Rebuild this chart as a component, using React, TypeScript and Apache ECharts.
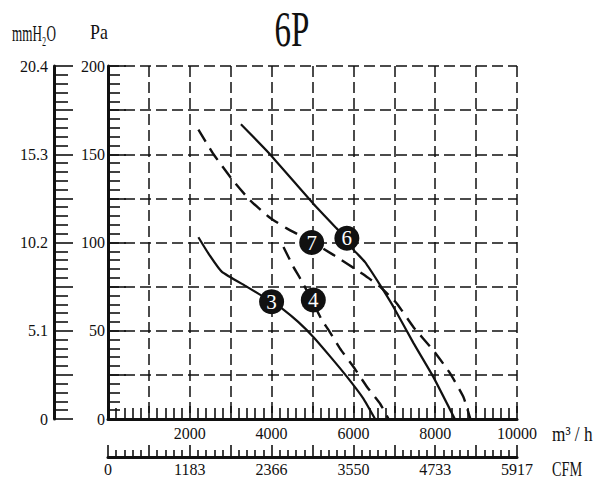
import React, { useEffect, useRef } from 'react';
import * as echarts from 'echarts';

// Tick labels
const flowLabels = [2000, 4000, 6000, 8000, 10000];
const paLabels = [0, 50, 100, 150, 200];
const mmLabels = ['0', '5.1', '10.2', '15.3', '20.4'];
const cfmLabels = ['0', '1183', '2366', '3550', '4733', '5917'];

// Curves: [m3/h, Pa]
const curve6 = [[3250, 167], [3920, 151], [5020, 122], [5590, 108], [5840, 102], [6000, 96], [6280, 89], [6650, 76], [6980, 63.5], [7470, 43], [7950, 24], [8480, 0]];
const curve7 = [[2210, 164], [2580, 150], [3060, 135], [3470, 124], [3960, 114], [4370, 108], [4980, 100.5], [5510, 93], [6240, 82], [6650, 75], [7060, 65.5], [7470, 52], [7950, 39], [8360, 26], [8690, 12.5], [8860, 0]];
const curve3 = [[2210, 103], [2450, 94], [2780, 83.5], [3390, 75], [4000, 66.5], [4290, 62], [4650, 55], [5020, 46.5], [5430, 35.5], [5840, 24], [6240, 11.7], [6530, 0]];
const curve4 = [[4290, 97.5], [4530, 86.3], [4740, 78], [5000, 66.5], [5230, 56], [5390, 50.5], [5670, 40], [6000, 29.6], [6330, 18.3], [6650, 8.8], [6860, 0]];

const markerNames = ['3', '4', '7', '6'];
const markerX = [4000, 5020, 4980, 5840];
const markerY = [66.5, 67.4, 100, 102.4];

const FONT = '"Liberation Serif", "Times New Roman", serif';

export default function App() {
  const ref = useRef<HTMLDivElement>(null);
  useEffect(() => {
    const chart = echarts.init(ref.current!, null, { renderer: 'svg' });
    const labelStyle = { color: '#111', fontFamily: FONT, fontSize: 16 };
    const option: any = {
      animation: false,
      backgroundColor: '#fff',
      grid: { left: 108, right: 80, top: 66, bottom: 65, containLabel: false, outerBoundsMode: 'none' },
      xAxis: [
        {
          type: 'value', min: 0, max: 10000, interval: 1000, position: 'bottom',
          axisLine: { show: true, onZero: false, lineStyle: { color: '#111', width: 3 } },
          axisTick: { show: true, inside: true, length: 13, lineStyle: { color: '#111', width: 1.6 } },
          minorTick: { show: true, splitNumber: 5, length: 11, lineStyle: { color: '#111', width: 1.6 } },
          axisLabel: {
            ...labelStyle, margin: 6, showMinLabel: true, showMaxLabel: true,
            formatter: (v: number) => (flowLabels.includes(v) ? String(v) : ''),
          },
          splitLine: { show: true, lineStyle: { color: '#111', width: 1.5, type: [11, 5] } },
        },
        {
          type: 'value', min: 0, max: 10000, interval: 1000, position: 'bottom', offset: 38,
          axisLine: { show: true, onZero: false, lineStyle: { color: '#111', width: 3 } },
          axisTick: { show: true, inside: true, length: 12, lineStyle: { color: '#111', width: 1.6 } },
          minorTick: { show: true, splitNumber: 5, length: 7, lineStyle: { color: '#111', width: 1.6 } },
          axisLabel: {
            ...labelStyle, margin: 4, showMinLabel: true, showMaxLabel: true,
            formatter: (v: number) => (v % 2000 === 0 ? cfmLabels[v / 2000] : ''),
          },
          splitLine: { show: false },
        },
      ],
      yAxis: [
        {
          type: 'value', min: 0, max: 200, interval: 25, position: 'left',
          axisLine: { show: true, onZero: false, lineStyle: { color: '#111', width: 3 } },
          axisTick: { show: true, inside: true, length: 18, lineStyle: { color: '#111', width: 1.6 } },
          minorTick: { show: true, splitNumber: 5, length: 12, lineStyle: { color: '#111', width: 1.6 } },
          axisLabel: {
            ...labelStyle, margin: 3, showMinLabel: true, showMaxLabel: true,
            formatter: (v: number) => (paLabels.includes(v) ? String(v) : ''),
          },
          splitLine: { show: true, lineStyle: { color: '#111', width: 1.5, type: [11, 5] } },
        },
        {
          type: 'value', min: 0, max: 200, interval: 25, position: 'left', offset: 54,
          axisLine: { show: true, onZero: false, lineStyle: { color: '#111', width: 3 } },
          axisTick: { show: true, inside: true, length: 19, lineStyle: { color: '#111', width: 1.6 } },
          minorTick: { show: true, splitNumber: 5, length: 14, lineStyle: { color: '#111', width: 1.6 } },
          axisLabel: {
            ...labelStyle, margin: 6, showMinLabel: true, showMaxLabel: true,
            formatter: (v: number) => (v % 50 === 0 ? mmLabels[v / 50] : ''),
          },
          splitLine: { show: false },
        },
      ],
      graphic: [
        { type: 'text', x: 292, y: 29, scaleX: 0.66, style: { text: '6P', fontFamily: FONT, fontSize: 50, fill: '#111', align: 'center', verticalAlign: 'middle' } },
        { type: 'text', x: 12, y: 33, scaleX: 0.57, style: { text: 'mmH₂O', fontFamily: FONT, fontSize: 23, fill: '#111', align: 'left', verticalAlign: 'middle' } },
        { type: 'text', x: 90, y: 32, scaleX: 0.85, style: { text: 'Pa', fontFamily: FONT, fontSize: 21, fill: '#111', align: 'left', verticalAlign: 'middle' } },
        { type: 'text', x: 552, y: 434, scaleX: 0.82, style: { text: 'm³ / h', fontFamily: FONT, fontSize: 21, fill: '#111', align: 'left', verticalAlign: 'middle' } },
        { type: 'text', x: 552, y: 469, scaleX: 0.68, style: { text: 'CFM', fontFamily: FONT, fontSize: 21, fill: '#111', align: 'left', verticalAlign: 'middle' } },
      ],
      series: [
        { type: 'line', data: curve6, showSymbol: false, smooth: 0.15, lineStyle: { color: '#111', width: 2.2, type: 'solid' }, z: 3 },
        { type: 'line', data: curve7, showSymbol: false, smooth: 0.15, lineStyle: { color: '#111', width: 2.4, type: [14, 8] }, z: 3 },
        { type: 'line', data: curve3, showSymbol: false, smooth: 0.15, lineStyle: { color: '#111', width: 2.2, type: 'solid' }, z: 3 },
        { type: 'line', data: curve4, showSymbol: false, smooth: 0.15, lineStyle: { color: '#111', width: 2.4, type: [14, 8] }, z: 3 },
        {
          type: 'scatter', z: 5, symbol: 'circle', symbolSize: 25,
          itemStyle: { color: '#111', opacity: 1 },
          data: markerNames.map((n, i) => ({ name: n, value: [markerX[i], markerY[i]] })),
          label: { show: true, position: 'inside', formatter: '{b}', color: '#fff', fontFamily: FONT, fontSize: 21 },
        },
      ],
    };
    chart.setOption(option);
    return () => chart.dispose();
  }, []);
  return <div ref={ref} style={{ position: 'fixed', left: 0, top: 0, width: 597, height: 484, background: '#fff' }} />;
}
